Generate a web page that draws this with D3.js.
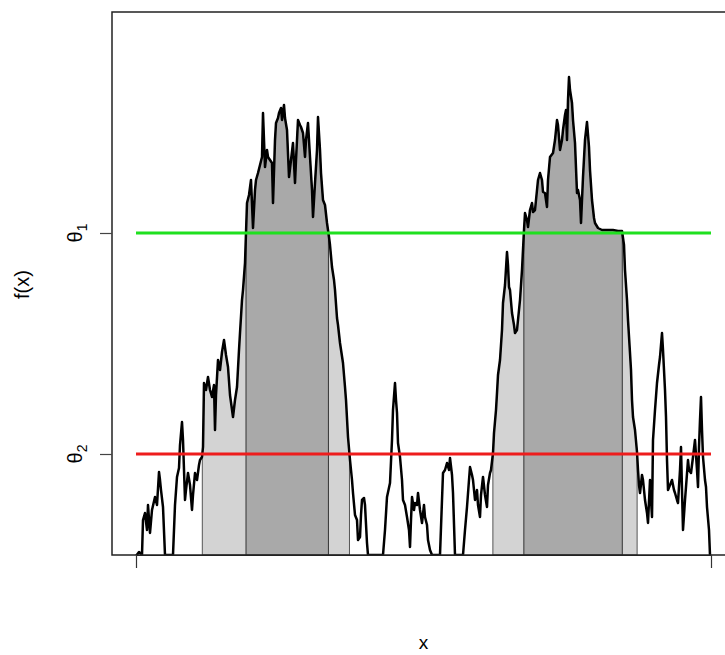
<!DOCTYPE html>
<html>
<head>
<meta charset="utf-8">
<script src="https://cdn.jsdelivr.net/npm/d3@7"></script>
<style>
  body { margin: 0; background: #fff; }
  text { font-family: "Liberation Sans", Arial, sans-serif; fill: #000; }
</style>
</head>
<body>
<div id="chart"></div>
<script>
/* globals d3 */

// x positions of the sampled curve and the values f(x) there
const xs = [
  0.00, 0.03, 0.06, 0.07, 0.09, 0.11, 0.12, 0.14, 0.16, 0.19, 0.21, 0.23, 0.24, 0.25, 0.27, 0.29,
  0.37, 0.39, 0.41, 0.43, 0.44, 0.46, 0.47, 0.49, 0.50, 0.52, 0.54, 0.56, 0.57, 0.59, 0.61, 0.63,
  0.64, 0.66, 0.67, 0.68, 0.70, 0.72, 0.74, 0.76, 0.78, 0.79, 0.80, 0.82, 0.84, 0.86, 0.88, 0.90,
  0.92, 0.94, 0.97, 0.99, 1.01, 1.03, 1.04, 1.06, 1.07, 1.09, 1.11, 1.13, 1.15, 1.17, 1.19, 1.20,
  1.22, 1.24, 1.26, 1.27, 1.29, 1.31, 1.32, 1.34, 1.36, 1.37, 1.39, 1.40, 1.42, 1.43, 1.45, 1.46,
  1.48, 1.49, 1.51, 1.53, 1.55, 1.57, 1.59, 1.60, 1.62, 1.64, 1.65, 1.67, 1.69, 1.70, 1.72, 1.74,
  1.76, 1.77, 1.79, 1.81, 1.82, 1.84, 1.85, 1.87, 1.89, 1.91, 1.93, 1.94, 1.96, 1.98, 1.99, 2.01,
  2.02, 2.04, 2.07, 2.09, 2.10, 2.12, 2.14, 2.16, 2.17, 2.19, 2.21, 2.22, 2.24, 2.25, 2.26, 2.28,
  2.29, 2.31, 2.32, 2.47, 2.49, 2.51, 2.54, 2.56, 2.57, 2.59, 2.60, 2.61, 2.62, 2.64, 2.66, 2.67,
  2.69, 2.71, 2.73, 2.74, 2.75, 2.76, 2.78, 2.79, 2.81, 2.82, 2.84, 2.86, 2.88, 2.89, 2.91, 2.92,
  2.94, 2.96, 3.04, 3.06, 3.07, 3.09, 3.11, 3.13, 3.14, 3.16, 3.17, 3.19, 3.27, 3.29, 3.31, 3.33,
  3.34, 3.36, 3.37, 3.39, 3.41, 3.42, 3.44, 3.45, 3.47, 3.49, 3.51, 3.52, 3.54, 3.55, 3.57, 3.58,
  3.60, 3.61, 3.62, 3.64, 3.66, 3.67, 3.69, 3.71, 3.72, 3.73, 3.74, 3.76, 3.78, 3.79, 3.81, 3.82,
  3.84, 3.86, 3.88, 3.89, 3.91, 3.92, 3.94, 3.96, 3.97, 3.99, 4.01, 4.02, 4.04, 4.06, 4.07, 4.09,
  4.11, 4.12, 4.14, 4.17, 4.19, 4.21, 4.22, 4.24, 4.26, 4.27, 4.29, 4.30, 4.31, 4.32, 4.33, 4.34,
  4.36, 4.37, 4.39, 4.41, 4.42, 4.44, 4.45, 4.46, 4.47, 4.49, 4.51, 4.53, 4.54, 4.56, 4.58, 4.59,
  4.62, 4.66, 4.72, 4.77, 4.82, 4.86, 4.88, 4.89, 4.91, 4.92, 4.94, 4.95, 4.96, 4.97, 4.99, 5.01,
  5.02, 5.03, 5.04, 5.06, 5.07, 5.09, 5.11, 5.12, 5.14, 5.15, 5.16, 5.17, 5.19, 5.21, 5.23, 5.24,
  5.26, 5.27, 5.29, 5.30, 5.31, 5.32, 5.34, 5.36, 5.38, 5.39, 5.41, 5.42, 5.44, 5.45, 5.46, 5.47,
  5.49, 5.50, 5.52, 5.53, 5.55, 5.56, 5.57, 5.59, 5.61, 5.62, 5.63, 5.64, 5.65, 5.66, 5.67, 5.69,
  5.70, 5.71, 5.73, 5.74, 5.75
];
const fx = [
  -0.01, 0.03, 0.00, 0.35, 0.42, 0.25, 0.50, 0.22, 0.45, 0.58, 0.50, 0.83, 0.75, 0.65, 0.48, 0.00,
  0.00, 0.50, 0.78, 0.87, 1.10, 1.33, 1.15, 0.55, 0.65, 0.82, 0.70, 0.45, 0.60, 0.82, 0.75, 0.90,
  0.95, 0.98, 1.08, 1.72, 1.65, 1.78, 1.65, 1.58, 1.70, 1.25, 1.60, 1.95, 1.85, 2.03, 2.15, 2.00,
  1.88, 1.60, 1.38, 1.55, 1.68, 2.05, 2.22, 2.55, 2.65, 2.92, 3.52, 3.60, 3.75, 3.27, 3.65, 3.75,
  3.82, 3.90, 3.98, 4.42, 3.88, 4.05, 3.98, 3.95, 3.92, 3.52, 4.15, 4.32, 4.37, 4.42, 4.47, 4.35,
  4.50, 4.37, 4.25, 3.78, 3.95, 4.12, 3.72, 3.95, 4.35, 4.30, 4.28, 4.22, 3.98, 4.15, 4.32, 3.98,
  3.65, 3.38, 3.72, 4.05, 4.38, 4.05, 3.82, 3.55, 3.50, 3.32, 3.18, 3.10, 2.88, 2.75, 2.65, 2.37,
  2.30, 2.12, 1.92, 1.68, 1.55, 1.18, 0.95, 0.75, 0.62, 0.40, 0.35, 0.15, 0.18, 0.40, 0.55, 0.57,
  0.50, 0.12, 0.00, 0.00, 0.25, 0.58, 0.72, 1.15, 1.45, 1.72, 1.55, 1.42, 1.12, 0.98, 0.75, 0.55,
  0.50, 0.38, 0.25, 0.08, 0.35, 0.58, 0.45, 0.52, 0.50, 0.62, 0.45, 0.32, 0.50, 0.38, 0.30, 0.15,
  0.05, 0.00, 0.00, 0.55, 0.82, 0.85, 0.92, 0.85, 0.97, 0.80, 0.62, 0.00, 0.00, 0.25, 0.48, 0.75,
  0.88, 0.80, 0.75, 0.55, 0.65, 0.50, 0.38, 0.60, 0.78, 0.60, 0.48, 0.70, 0.82, 0.85, 1.02, 1.22,
  1.45, 1.62, 1.80, 1.95, 2.25, 2.52, 2.70, 3.03, 2.90, 2.68, 2.65, 2.42, 2.30, 2.22, 2.25, 2.35,
  2.55, 2.85, 3.25, 3.42, 3.35, 3.28, 3.45, 3.52, 3.43, 3.45, 3.65, 3.75, 3.82, 3.75, 3.63, 3.62,
  3.48, 3.75, 3.98, 4.02, 4.15, 4.35, 4.30, 4.05, 4.15, 4.25, 4.40, 4.45, 4.15, 4.55, 4.78, 4.65,
  4.52, 4.35, 4.12, 3.62, 3.65, 3.55, 3.32, 3.55, 3.78, 4.15, 4.33, 4.08, 3.85, 3.55, 3.37, 3.32,
  3.27, 3.25, 3.25, 3.25, 3.24, 3.24, 3.10, 2.85, 2.55, 2.35, 2.02, 1.85, 1.55, 1.38, 1.25, 1.03,
  0.85, 0.70, 0.62, 0.80, 0.75, 0.55, 0.42, 0.32, 0.75, 0.55, 0.38, 1.15, 1.45, 1.72, 1.90, 1.98,
  2.22, 2.05, 1.65, 1.38, 0.95, 0.65, 0.70, 0.75, 0.65, 0.62, 0.55, 0.52, 0.85, 1.08, 0.65, 0.25,
  0.55, 0.68, 0.95, 0.85, 0.82, 0.90, 0.98, 1.15, 0.85, 0.68, 1.08, 1.35, 1.58, 1.25, 0.98, 0.75,
  0.68, 0.48, 0.25, 0.00, -0.10
];

// the two levels and their axis labels
const levels = [3.22, 1.01];
const levelNames = ["1", "2"];
const levelColors = ["#1fe01f", "#ee1c1c"];
const xTicks = [0, 5.75];
const yDomain = [0, 5.43];

const width = 725;
const height = 655;
const box = {left: 112, top: 12, right: 735, bottom: 555};
const pad = 24;

const x = d3.scaleLinear()
  .domain(d3.extent(xTicks))
  .range([box.left + pad, box.right - pad]);
const y = d3.scaleLinear()
  .domain(yDomain)
  .range([box.bottom, box.top]);

const points = xs.map((d, i) => ({x: d, f: fx[i]}));

// connected pieces of {f > level}, ends found by linear interpolation
const levelSet = (level) => {
  const out = [];
  let start = null;
  for (let i = 0; i < points.length; i++) {
    const p = points[i];
    const above = p.f > level;
    if (i === 0) {
      if (above) { start = p.x; }
      continue;
    }
    const q = points[i - 1];
    const wasAbove = q.f > level;
    if (above !== wasAbove) {
      const cross = q.x + (level - q.f) / (p.f - q.f) * (p.x - q.x);
      if (above) {
        start = cross;
      } else {
        out.push([start, cross]);
      }
    }
  }
  if (points[points.length - 1].f > level) { out.push([start, points[points.length - 1].x]); }
  return out;
};

const high = levelSet(levels[0]);
const low = levelSet(levels[1])
  .filter((iv) => high.some((h) => h[0] >= iv[0] && h[1] <= iv[1]));

const piece = ([a, b], level) => [
  {x: a, f: level},
  ...points.filter((p) => p.x > a && p.x < b),
  {x: b, f: level}
];

const svg = d3.select("#chart").append("svg")
  .attr("width", width)
  .attr("height", height)
  .attr("viewBox", [0, 0, width, height]);

svg.append("clipPath")
  .attr("id", "plot-clip")
  .append("rect")
  .attr("x", box.left)
  .attr("y", box.top)
  .attr("width", box.right - box.left)
  .attr("height", box.bottom - box.top);

const plot = svg.append("g").attr("clip-path", "url(#plot-clip)");

const area = d3.area()
  .x((d) => x(d.x))
  .y0(y(yDomain[0]))
  .y1((d) => y(d.f));

plot.append("g")
  .selectAll("path")
  .data(low)
  .join("path")
  .attr("d", (d) => area(piece(d, levels[1])))
  .attr("fill", "#d3d3d3")
  .attr("stroke", "#555")
  .attr("stroke-width", 1);

plot.append("g")
  .selectAll("path")
  .data(high)
  .join("path")
  .attr("d", (d) => area(piece(d, levels[0])))
  .attr("fill", "#a9a9a9")
  .attr("stroke", "#333")
  .attr("stroke-width", 1);

const line = d3.line()
  .x((d) => x(d.x))
  .y((d) => y(d.f));

plot.append("path")
  .datum(points)
  .attr("d", line)
  .attr("fill", "none")
  .attr("stroke", "#000")
  .attr("stroke-width", 2.5)
  .attr("stroke-linejoin", "round");

plot.append("g")
  .selectAll("line")
  .data(levels)
  .join("line")
  .attr("x1", x(xs[0]))
  .attr("x2", x(xs[xs.length - 1]))
  .attr("y1", (d) => y(d))
  .attr("y2", (d) => y(d))
  .attr("stroke", (d, i) => levelColors[i])
  .attr("stroke-width", 3);

// box round the plot region
svg.append("rect")
  .attr("x", box.left)
  .attr("y", box.top)
  .attr("width", box.right - box.left)
  .attr("height", box.bottom - box.top)
  .attr("fill", "none")
  .attr("stroke", "#222")
  .attr("stroke-width", 1.5);

// x axis: ticks only, no labels
svg.append("g")
  .attr("transform", `translate(0,${box.bottom})`)
  .call(d3.axisBottom(x).tickValues(xTicks).tickFormat("").tickSize(13).tickSizeOuter(0))
  .call((g) => g.select(".domain").attr("stroke", "#222"))
  .call((g) => g.selectAll(".tick line").attr("stroke", "#333").attr("stroke-width", 1.2));

// y axis: the two levels
const yAxis = svg.append("g")
  .attr("transform", `translate(${box.left},0)`)
  .call(d3.axisLeft(y).tickValues(levels).tickFormat("").tickSize(12).tickSizeOuter(0));
yAxis.select(".domain").remove();
yAxis.selectAll(".tick line").attr("stroke", "#444").attr("stroke-width", 1.2);

const thetaLabel = svg.append("g")
  .selectAll("text")
  .data(levels)
  .join("text")
  .attr("transform", (d) => `translate(82,${y(d)}) rotate(-90)`)
  .attr("text-anchor", "middle")
  .attr("font-size", 20);
thetaLabel.append("tspan").text("θ");
thetaLabel.append("tspan")
  .attr("font-size", 14)
  .attr("dy", 5)
  .text((d, i) => levelNames[i]);

svg.append("text")
  .attr("transform", `translate(29,${(box.top + box.bottom) / 2 + 1}) rotate(-90)`)
  .attr("text-anchor", "middle")
  .attr("font-size", 20)
  .text("f(x)");

svg.append("text")
  .attr("x", (box.left + box.right) / 2)
  .attr("y", 649)
  .attr("text-anchor", "middle")
  .attr("font-size", 19)
  .text("x");
</script>
</body>
</html>
